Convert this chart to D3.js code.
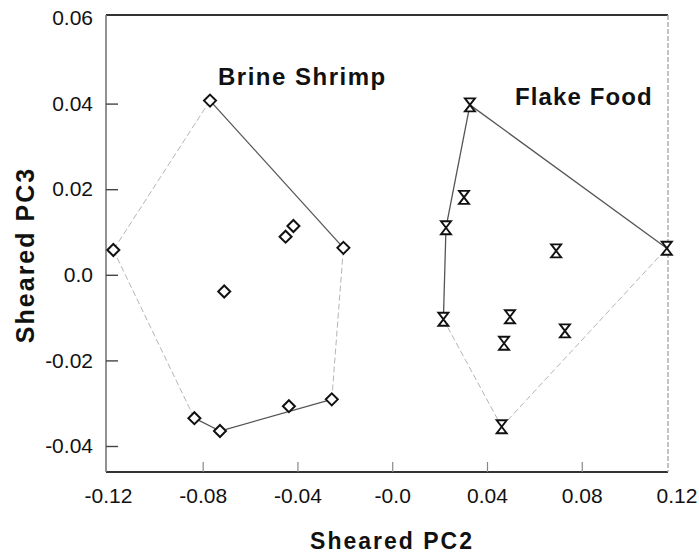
<!DOCTYPE html>
<html>
<head>
<meta charset="utf-8">
<script src="https://cdn.jsdelivr.net/npm/d3@7"></script>
<style>
  html, body { margin: 0; padding: 0; background: #fff; }
  svg { display: block; font-family: Arial, "Liberation Sans", sans-serif; }
</style>
</head>
<body>
<svg id="chart" width="699" height="557"></svg>
<script>
// ---------------- data ----------------
const brineX = [-0.0769, -0.1177, -0.0206, -0.0450, -0.0417, -0.0709, -0.0835, -0.0727, -0.0436, -0.0255];
const brineY = [ 0.0407,  0.0058,  0.0063,  0.0089,  0.0114, -0.0039, -0.0335, -0.0365, -0.0307, -0.0291];

const flakeX = [0.0328, 0.0303, 0.0227, 0.0692, 0.1159, 0.0216, 0.0497, 0.0472, 0.0729, 0.0462];
const flakeY = [0.0397, 0.0181, 0.0110, 0.0056, 0.0062, -0.0104, -0.0098, -0.0160, -0.0131, -0.0355];

const xTicks = [-0.12, -0.08, -0.04, 0, 0.04, 0.08, 0.12];
const xTickLabels = ["-0.12", "-0.08", "-0.04", "-0.0", "0.04", "0.08", "0.12"];
const yTicks = [-0.04, -0.02, 0, 0.02, 0.04, 0.06];
const yTickLabels = ["-0.04", "-0.02", "0.0", "0.02", "0.04", "0.06"];

const groupNames = ["Brine Shrimp", "Flake Food"];
const xLabel = "Sheared PC2";
const yLabel = "Sheared PC3";

// hull edges that appear faint in the scan (pairs of point indices)
const faintBrine = [[2, 9], [6, 1], [1, 0]];
const faintFlake = [[4, 9], [9, 5]];

// ---------------- layout ----------------
const L = 106, R = 668, T = 15, B = 472;
const svg = d3.select("#chart");

const x = d3.scaleLinear().domain([-0.1208, 0.1164]).range([L, R]);
const y = d3.scaleLinear().domain([-0.04, 0.06]).range([446, 18]);

const brine = brineX.map((v, i) => ({ x: v, y: brineY[i], i }));
const flake = flakeX.map((v, i) => ({ x: v, y: flakeY[i], i }));

// ---------------- frame ----------------
const frame = svg.append("g");
frame.append("line").attr("x1", L).attr("x2", R).attr("y1", T).attr("y2", T)
  .attr("stroke", "#333").attr("stroke-width", 2);
frame.append("line").attr("x1", L).attr("x2", R).attr("y1", B).attr("y2", B)
  .attr("stroke", "#333").attr("stroke-width", 2);
frame.append("line").attr("x1", L).attr("x2", L).attr("y1", T).attr("y2", B)
  .attr("stroke", "#777").attr("stroke-width", 1.6);
frame.append("line").attr("x1", R).attr("x2", R).attr("y1", T).attr("y2", B)
  .attr("stroke", "#aaa").attr("stroke-width", 1.4).attr("stroke-dasharray", "5,2");

// ---------------- axes ----------------
const xAxis = d3.axisBottom(x)
  .tickValues(xTicks)
  .tickFormat((d, i) => xTickLabels[i])
  .tickSizeInner(-10).tickSizeOuter(0).tickPadding(16);
const gx = svg.append("g").attr("transform", `translate(0,${B})`).call(xAxis);
gx.select(".domain").remove();
gx.selectAll(".tick line")
  .attr("stroke", "#888").attr("stroke-width", 1.2)
  .attr("display", d => (x(d) <= L + 4 || x(d) >= R - 2) ? "none" : null);
gx.selectAll(".tick text").attr("font-size", 21).attr("fill", "#111")
  .attr("font-family", "Arial, 'Liberation Sans', sans-serif");

const yAxis = d3.axisLeft(y)
  .tickValues(yTicks)
  .tickFormat((d, i) => yTickLabels[i])
  .tickSizeInner(-12).tickSizeOuter(0).tickPadding(13);
const gy = svg.append("g").attr("transform", `translate(${L},0)`).call(yAxis);
gy.select(".domain").remove();
gy.selectAll(".tick line").attr("stroke", "#444").attr("stroke-width", 1.4)
  .attr("display", d => d >= 0.06 ? "none" : null);
gy.selectAll(".tick text").attr("font-size", 21).attr("fill", "#111")
  .attr("font-family", "Arial, 'Liberation Sans', sans-serif");

// ---------------- hulls ----------------
function drawHull(pts, faint) {
  const hull = d3.polygonHull(pts.map(p => [x(p.x), y(p.y)]));
  const idx = hull.map(h => pts.findIndex(p => Math.abs(x(p.x) - h[0]) < 1e-6 && Math.abs(y(p.y) - h[1]) < 1e-6));
  const g = svg.append("g");
  for (let k = 0; k < hull.length; k++) {
    const a = hull[k], b = hull[(k + 1) % hull.length];
    const ia = idx[k], ib = idx[(k + 1) % hull.length];
    const isFaint = faint.some(f => (f[0] === ia && f[1] === ib) || (f[0] === ib && f[1] === ia));
    g.append("line")
      .attr("x1", a[0]).attr("y1", a[1]).attr("x2", b[0]).attr("y2", b[1])
      .attr("stroke", isFaint ? "#b5b5b5" : "#555")
      .attr("stroke-width", isFaint ? 1 : 1.3)
      .attr("stroke-dasharray", isFaint ? "6,3" : null);
  }
}
drawHull(brine, faintBrine);
drawHull(flake, faintFlake);

// ---------------- markers ----------------
const diamond = "M0,-6 L6,0 L0,6 L-6,0 Z";
svg.append("g").selectAll("path").data(brine).join("path")
  .attr("d", diamond)
  .attr("transform", d => `translate(${x(d.x)},${y(d.y)})`)
  .attr("fill", "#fff").attr("stroke", "#111").attr("stroke-width", 2);

const hourglass = "M-5,-6.5 L5,-6.5 L-5,6.5 L5,6.5 Z";
svg.append("g").selectAll("path").data(flake).join("path")
  .attr("d", hourglass)
  .attr("transform", d => `translate(${x(d.x)},${y(d.y)})`)
  .attr("fill", "#fff").attr("stroke", "#111").attr("stroke-width", 1.9)
  .attr("stroke-linejoin", "miter");

// ---------------- group labels ----------------
svg.append("text").attr("x", 218).attr("y", 85)
  .attr("font-size", 24).attr("font-weight", "bold").attr("letter-spacing", 1.5)
  .attr("fill", "#111").text(groupNames[0]);
svg.append("text").attr("x", 515).attr("y", 105)
  .attr("font-size", 24).attr("font-weight", "bold").attr("letter-spacing", 1.1)
  .attr("fill", "#111").text(groupNames[1]);

// ---------------- axis titles ----------------
svg.append("text").attr("x", 392).attr("y", 549).attr("text-anchor", "middle")
  .attr("font-size", 23).attr("font-weight", "bold").attr("letter-spacing", 2)
  .attr("fill", "#111").text(xLabel);
svg.append("text").attr("transform", "translate(34,255) rotate(-90)")
  .attr("text-anchor", "middle")
  .attr("font-size", 25).attr("font-weight", "bold").attr("letter-spacing", 2)
  .attr("fill", "#111").text(yLabel);
</script>
</body>
</html>
